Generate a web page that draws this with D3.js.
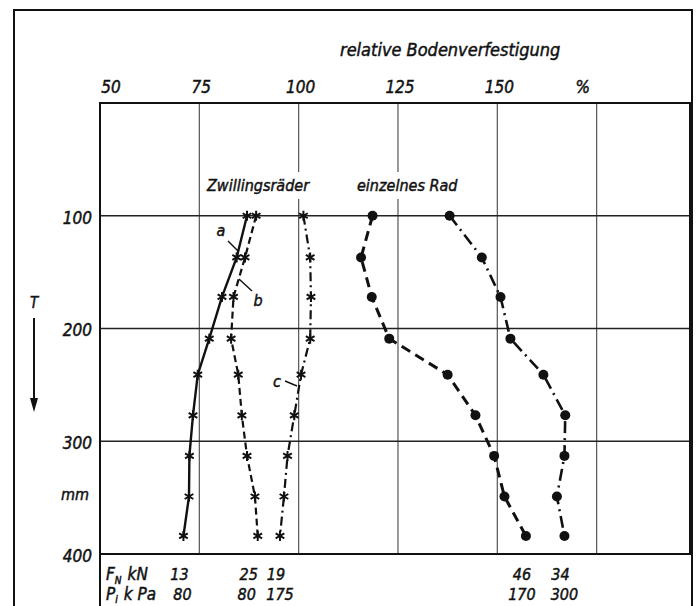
<!DOCTYPE html>
<html>
<head>
<meta charset="utf-8">
<script src="https://cdn.jsdelivr.net/npm/d3@7"></script>
<style>
  body { margin: 0; background: #fff; }
  text { font-family: "DejaVu Sans Condensed", "Liberation Sans Narrow", sans-serif; font-style: italic; fill: #111; stroke: #111; stroke-width: 0.45; }
</style>
</head>
<body>
<div id="chart"></div>
<script>
// depth below surface (mm) of every measuring point
const depths = [100, 137, 172, 209, 241, 277, 313, 349, 384];

// relative soil compaction in %, twin wheels (a, b, c)
const seriesA = [87.0, 84.4, 80.7, 77.5, 74.6, 73.4, 72.5, 72.4, 71.0];
const seriesB = [89.3, 86.5, 83.6, 83.0, 84.8, 85.7, 87.0, 89.0, 89.7];
const seriesC = [101.2, 102.9, 103.1, 102.9, 100.6, 98.9, 97.2, 96.3, 95.3];

// single wheel
const singleDashed = [118.6, 115.7, 118.4, 122.8, 137.5, 144.5, 149.2, 151.8, 157.2];
const singleDashDot = [138.0, 146.1, 150.8, 153.3, 161.6, 167.1, 166.9, 165.0, 166.9];

// wheel load and inflation pressure, one per curve
const wheelLoad = [13, 25, 19, 46, 34];
const tyrePressure = [80, 80, 175, 170, 300];

const xTicks = [50, 75, 100, 125, 150];
const yTicks = [100, 200, 300, 400];

const width = 697, height = 606;

const svg = d3.select("#chart").append("svg")
    .attr("width", width)
    .attr("height", height);

const x = d3.scaleLinear().domain([50, 198.5]).range([100, 690]);
const y = d3.scaleLinear().domain([0, 400]).range([103, 554]);

// outer frame
svg.append("path")
    .attr("d", "M14 606 V10 H692 V606")
    .attr("fill", "none")
    .attr("stroke", "#111")
    .attr("stroke-width", 2);

// grid
const grid = svg.append("g");
xTicks.concat([175]).forEach(v => {
    grid.append("line")
        .attr("x1", x(v)).attr("x2", x(v))
        .attr("y1", y(0)).attr("y2", y(400))
        .attr("stroke", "#555").attr("stroke-width", 1.2);
});
yTicks.slice(0, 3).forEach(v => {
    grid.append("line")
        .attr("x1", x(50)).attr("x2", 690)
        .attr("y1", y(v)).attr("y2", y(v))
        .attr("stroke", "#222").attr("stroke-width", 1.5);
});
grid.append("rect")
    .attr("x", x(50)).attr("y", y(0))
    .attr("width", 690 - x(50)).attr("height", y(400) - y(0))
    .attr("fill", "none").attr("stroke", "#111").attr("stroke-width", 2);

// table below the plot
svg.append("line")
    .attr("x1", x(50)).attr("x2", x(50))
    .attr("y1", y(400)).attr("y2", height)
    .attr("stroke", "#111").attr("stroke-width", 2);

// top axis labels
svg.selectAll(".xlab")
    .data(xTicks)
    .enter().append("text")
    .attr("x", (d, i) => i === 0 ? x(d) + 11 : x(d) + 2)
    .attr("y", 93)
    .attr("text-anchor", "middle")
    .attr("font-size", 17)
    .text(d => d);
svg.append("text")
    .attr("x", x(171.5)).attr("y", 93)
    .attr("text-anchor", "middle")
    .attr("font-size", 17)
    .text("%");
svg.append("text")
    .attr("x", 340).attr("y", 56)
    .attr("font-size", 18)
    .text("relative Bodenverfestigung");

// left axis labels
svg.selectAll(".ylab")
    .data(yTicks)
    .enter().append("text")
    .attr("x", 92)
    .attr("y", d => y(d) + 2)
    .attr("dy", "0.35em")
    .attr("text-anchor", "end")
    .attr("font-size", 17)
    .text(d => d);
svg.append("text")
    .attr("x", 89).attr("y", y(347))
    .attr("dy", "0.35em")
    .attr("text-anchor", "end")
    .attr("font-size", 16)
    .attr("font-style", "normal")
    .text("mm");
svg.append("text")
    .attr("x", 34).attr("y", 303)
    .attr("dy", "0.35em")
    .attr("text-anchor", "middle")
    .attr("font-size", 15)
    .text("T");
svg.append("line")
    .attr("x1", 34).attr("x2", 34)
    .attr("y1", 318).attr("y2", 402)
    .attr("stroke", "#111").attr("stroke-width", 2);
svg.append("path")
    .attr("d", "M30 398 L34 412 L38 398 Z")
    .attr("fill", "#111");

// group labels with white background
[["Zwillingsräder", 207], ["einzelnes Rad", 357]].forEach(([t, px]) => {
    const lab = svg.append("text")
        .attr("x", px).attr("y", 191)
        .attr("font-size", 16)
        .text(t);
    const bb = lab.node().getBBox();
    svg.insert("rect", "text")
        .attr("x", bb.x - 3).attr("y", bb.y - 4)
        .attr("width", bb.width + 6).attr("height", bb.height + 8)
        .attr("fill", "#fff");
});

// curves
const curves = [
    { values: seriesA, dash: null, width: 2.4, marker: "star" },
    { values: seriesB, dash: "7,4", width: 2.2, marker: "star" },
    { values: seriesC, dash: "9,4,2,4", width: 2.2, marker: "star" },
    { values: singleDashed, dash: "10,6", width: 3, marker: "dot" },
    { values: singleDashDot, dash: "12,5,2,5", width: 2.6, marker: "dot" }
];

const line = d3.line()
    .x(d => x(d[0]))
    .y(d => y(d[1]));

const star = d3.symbol().type(d3.symbolAsterisk).size(70);

curves.forEach(c => {
    const pts = c.values.map((v, i) => [v, depths[i]]);
    svg.append("path")
        .datum(pts)
        .attr("d", line)
        .attr("fill", "none")
        .attr("stroke", "#111")
        .attr("stroke-width", c.width)
        .attr("stroke-dasharray", c.dash);

    if (c.marker === "star") {
        svg.selectAll(null)
            .data(pts)
            .enter().append("path")
            .attr("d", star)
            .attr("transform", d => `translate(${x(d[0])},${y(d[1])})`)
            .attr("fill", "none")
            .attr("stroke", "#111")
            .attr("stroke-width", 2);
    } else {
        svg.selectAll(null)
            .data(pts)
            .enter().append("circle")
            .attr("cx", d => x(d[0]))
            .attr("cy", d => y(d[1]))
            .attr("r", 5)
            .attr("fill", "#111");
    }
});

// curve letters with leader lines
const letters = [
    { t: "a", lx: 221, ly: 236, x1: 228, y1: 241, x2: 238, y2: 251 },
    { t: "b", lx: 258, ly: 306, x1: 239, y1: 279, x2: 252, y2: 291 },
    { t: "c", lx: 277, ly: 387, x1: 285, y1: 381, x2: 297, y2: 386 }
];
letters.forEach(l => {
    svg.append("text")
        .attr("x", l.lx).attr("y", l.ly)
        .attr("text-anchor", "middle")
        .attr("font-size", 16)
        .text(l.t);
    svg.append("line")
        .attr("x1", l.x1).attr("y1", l.y1)
        .attr("x2", l.x2).attr("y2", l.y2)
        .attr("stroke", "#111").attr("stroke-width", 1.4);
});

// table: wheel load and tyre pressure under each curve
const lastX = curves.map(c => x(c.values[c.values.length - 1]) - 4);
const pressShift = [3, -7, 4, 0, 4];

const rowF = svg.append("text").attr("x", 106).attr("y", 580).attr("font-size", 17);
rowF.append("tspan").text("F");
rowF.append("tspan").attr("font-size", 10).attr("dy", 4).text("N");
rowF.append("tspan").attr("dy", -4).attr("dx", 6).text("kN");

const rowP = svg.append("text").attr("x", 106).attr("y", 600).attr("font-size", 17);
rowP.append("tspan").text("P");
rowP.append("tspan").attr("font-size", 10).attr("dy", 3).text("i");
rowP.append("tspan").attr("dy", -3).attr("dx", 6).text("k Pa");

svg.selectAll(".load")
    .data(wheelLoad)
    .enter().append("text")
    .attr("x", (d, i) => lastX[i] + (i === 1 ? -5 : 0))
    .attr("y", 580)
    .attr("text-anchor", "middle")
    .attr("font-size", 16)
    .text(d => d);

svg.selectAll(".press")
    .data(tyrePressure)
    .enter().append("text")
    .attr("x", (d, i) => lastX[i] + pressShift[i])
    .attr("y", 600)
    .attr("text-anchor", "middle")
    .attr("font-size", 16)
    .text(d => d);
</script>
</body>
</html>
